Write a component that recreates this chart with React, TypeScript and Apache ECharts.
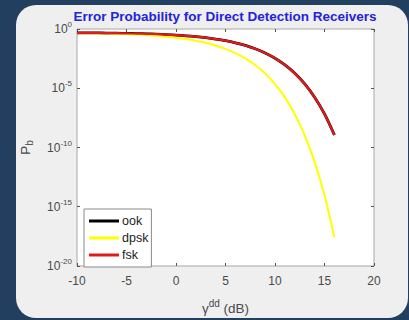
import React, { useEffect, useRef } from "react";
import * as echarts from "echarts";

const snrDb = [-10, -9, -8, -7, -6, -5, -4, -3, -2, -1, 0, 1, 2, 3, 4, 5, 6, 7, 8, 9, 10, 11, 12, 13, 14, 15, 16];
const ook = [0.476, 0.47, 0.462, 0.453, 0.441, 0.427, 0.41, 0.389, 0.365, 0.336, 0.303, 0.267, 0.226, 0.184, 0.142, 0.103, 0.0683, 0.0408, 0.0213, 0.0094, 0.00337, 9.2e-4, 1.81e-4, 2.3e-5, 1.76e-6, 6.8e-8, 1.13e-9];
const dpsk = [0.452, 0.441, 0.427, 0.409, 0.389, 0.364, 0.336, 0.303, 0.266, 0.226, 0.184, 0.142, 0.102, 0.068, 0.0406, 0.0212, 0.00933, 0.00333, 9.1e-4, 1.78e-4, 2.27e-5, 1.71e-6, 6.6e-8, 1.08e-9, 6.1e-12, 9.2e-15, 2.6e-18];
const fsk = [0.476, 0.47, 0.462, 0.453, 0.441, 0.427, 0.41, 0.389, 0.365, 0.336, 0.303, 0.267, 0.226, 0.184, 0.142, 0.103, 0.0683, 0.0408, 0.0213, 0.0094, 0.00337, 9.2e-4, 1.81e-4, 2.3e-5, 1.76e-6, 6.8e-8, 1.13e-9];
const seriesNames = ["ook", "dpsk", "fsk"];
const titleText = "Error Probability for Direct Detection Receivers";

const FONT = "Liberation Sans, Arial, Helvetica, sans-serif";
const LABEL = "#4a4a4a";

export default function App() {
  const ref = useRef<HTMLDivElement>(null);
  useEffect(() => {
    if (!ref.current) return;
    const chart = echarts.init(ref.current, undefined, { renderer: "svg" });
    const pair = (ys: number[]) => snrDb.map((x, i) => [x, ys[i]]);
    const supRich = {
      b: { fontSize: 12, color: LABEL, fontFamily: FONT },
      s: { fontSize: 8, color: LABEL, fontFamily: FONT, padding: [0, 0, 9, 0] },
    };
    const yLabel = (v: number) => `{b|10}{s|${Math.round(Math.log10(v))}}`;
    const grid = { left: 77, top: 29, width: 297, height: 245 };
    const tick = { inside: true, length: 3, lineStyle: { color: "#555555" } };
    const noLine = { show: false, onZero: false };
    const option: any = {
      animation: false,
      backgroundColor: "#233f60",
      graphic: {
        elements: [
          {
            type: "rect",
            z: -100,
            silent: true,
            shape: { x: 16, y: 5, width: 392, height: 313, r: 20 },
            style: { fill: "#efefef" },
          },
          {
            type: "text",
            z: 10,
            x: 225,
            y: 16,
            style: {
              text: titleText,
              fill: "#2323dc",
              font: `bold 13.5px ${FONT}`,
              align: "center",
              verticalAlign: "middle",
            },
          },
        ],
      },
      grid: { ...grid, show: true, backgroundColor: "#ffffff", borderColor: "#a8a8a8", borderWidth: 1 },
      legend: {
        data: seriesNames,
        orient: "vertical",
        left: 84,
        top: 209,
        backgroundColor: "#ffffff",
        borderColor: "#8a8a8a",
        borderWidth: 1,
        borderRadius: 0,
        padding: [5, 3, 5, 5],
        itemGap: 3,
        itemWidth: 30,
        itemHeight: 3,
        icon: "rect",
        textStyle: { fontSize: 12.5, color: "#222222", fontFamily: FONT, lineHeight: 14, padding: [0, 0, 0, -2] },
      },
      xAxis: [
        {
          type: "value",
          min: -10,
          max: 20,
          interval: 5,
          axisLine: noLine,
          axisTick: tick,
          splitLine: { show: false },
          axisLabel: { fontSize: 12, color: LABEL, fontFamily: FONT, margin: 9 },
          name: "{g|γ}{s|dd}{n| (dB)}",
          nameLocation: "middle",
          nameGap: 32,
          nameTextStyle: {
            rich: {
              g: { fontSize: 13.5, color: LABEL, fontFamily: FONT },
              s: { fontSize: 10, color: LABEL, fontFamily: FONT, padding: [0, 0, 10, 0] },
              n: { fontSize: 13.5, color: LABEL, fontFamily: FONT },
            },
          },
        },
        {
          type: "value",
          position: "top",
          min: -10,
          max: 20,
          interval: 5,
          axisLine: noLine,
          axisTick: tick,
          axisLabel: { show: false },
          splitLine: { show: false },
        },
      ],
      yAxis: [
        {
          type: "log",
          logBase: 10,
          min: 1e-20,
          max: 1,
          interval: 5,
          axisLine: noLine,
          axisTick: tick,
          splitLine: { show: false },
          minorTick: { show: false },
          axisLabel: { formatter: yLabel, margin: 5, rich: supRich },
          name: "{p|P}{s|b}",
          nameLocation: "middle",
          nameRotate: 90,
          nameGap: 43,
          nameTextStyle: {
            rich: {
              p: { fontSize: 13.5, color: LABEL, fontFamily: FONT },
              s: { fontSize: 10, color: LABEL, fontFamily: FONT, padding: [7, 0, 0, 0] },
            },
          },
        },
        {
          type: "log",
          logBase: 10,
          position: "right",
          min: 1e-20,
          max: 1,
          interval: 5,
          axisLine: noLine,
          axisTick: tick,
          axisLabel: { show: false },
          splitLine: { show: false },
        },
      ],
      series: [
        {
          name: "ook",
          type: "line",
          data: pair(ook),
          showSymbol: false,
          smooth: 0.3,
          color: "#000000",
          lineStyle: { color: "#000000", width: 2.8 },
          z: 2,
        },
        {
          name: "dpsk",
          type: "line",
          data: pair(dpsk),
          showSymbol: false,
          smooth: 0.3,
          color: "#ffff00",
          lineStyle: { color: "#ffff00", width: 2 },
          z: 3,
        },
        {
          name: "fsk",
          type: "line",
          data: pair(fsk),
          showSymbol: false,
          smooth: 0.3,
          color: "#e31a1a",
          lineStyle: { color: "#e31a1a", width: 2.2 },
          z: 4,
        },
      ],
    };
    chart.setOption(option);
    return () => chart.dispose();
  }, []);
  return (
    <div
      ref={ref}
      style={{ position: "fixed", left: 0, top: 0, width: 409, height: 320 }}
    />
  );
}
